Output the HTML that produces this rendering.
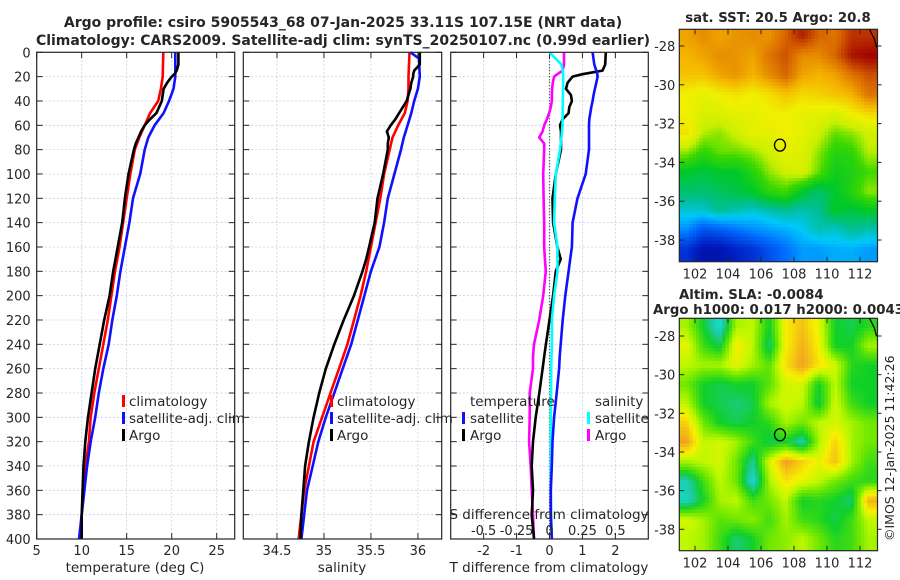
<!DOCTYPE html>
<html><head><meta charset="utf-8"><style>
body{margin:0;width:900px;height:580px;background:#fff;overflow:hidden}
svg{position:absolute;left:0;top:0}
text{font-family:"DejaVu Sans","Liberation Sans",sans-serif;fill:#262626}
</style></head><body>
<svg id="s" width="900" height="580" xmlns="http://www.w3.org/2000/svg">
<text x="343" y="27" font-size="14" font-weight="bold" text-anchor="middle" fill="#000">Argo profile: csiro 5905543_68 07-Jan-2025 33.11S 107.15E (NRT data)</text>
<text x="343" y="45" font-size="14" font-weight="bold" text-anchor="middle" fill="#000">Climatology: CARS2009. Satellite-adj clim: synTS_20250107.nc (0.99d earlier)</text>
<text x="778" y="22" font-size="13.3" font-weight="bold" text-anchor="middle" fill="#000">sat. SST: 20.5 Argo: 20.8</text>
<text x="679" y="299" font-size="13.3" font-weight="bold" fill="#000">Altim. SLA: -0.0084</text>
<text x="653" y="314" font-size="13.3" font-weight="bold" fill="#000">Argo h1000: 0.017 h2000: 0.0043</text>
<text transform="translate(894,541) rotate(-90)" font-size="12.5">©IMOS 12-Jan-2025 11:42:26</text>
<g id="g"></g>
</svg>
<script>
// ---- profile data ----
const dep1 = [0,20,30,40,50,60,70,80,100,120,140,160,180,200,220,240,260,280,300,320,340,360,380,400];
const climT = [19.07,19.0,18.8,18.5,17.6,17.0,16.4,15.9,15.4,15.0,14.6,14.2,13.7,13.3,12.9,12.4,11.9,11.4,11.0,10.8,10.4,10.2,10.0,9.9];
const satT = [20.4,20.4,20.2,19.7,19.1,18.1,17.4,17.0,16.5,15.7,15.3,14.8,14.3,13.9,13.4,13.0,12.4,11.9,11.5,11.0,10.6,10.3,10.0,9.7];
const climS = [35.91,35.90,35.9,35.89,35.86,35.79,35.73,35.70,35.64,35.60,35.55,35.50,35.45,35.39,35.32,35.25,35.16,35.07,34.98,34.89,34.84,34.79,34.76,34.73];
const satSDep = [0,5,20,30,40,50,60,70,80,100,120,140,160,180,200,220,240,260,280,300,320,340,360,380,400];
const satS = [35.92,36.01,36.02,36.0,35.96,35.93,35.89,35.85,35.82,35.75,35.68,35.64,35.59,35.5,35.43,35.36,35.29,35.2,35.11,35.02,34.94,34.88,34.82,34.79,34.76];
const argoDep = [0,10,15,18,20,25,30,35,40,45,50,55,60,65,70,75,80,100,120,140,160,170,180,200,220,240,260,280,300,320,340,360,380,400];
const argoT = [20.74,20.74,20.56,20.3,20.0,19.5,19.1,19.0,18.9,18.6,18.3,17.6,17.0,16.6,16.3,16.0,15.8,15.2,14.8,14.5,14.0,13.75,13.5,13.1,12.5,12.0,11.5,11.1,10.7,10.4,10.2,10.1,10.0,10.0];
const argoS = [36.02,36.02,35.96,35.95,35.95,35.93,35.92,35.9,35.88,35.84,35.8,35.76,35.71,35.67,35.69,35.68,35.68,35.63,35.57,35.54,35.48,35.45,35.41,35.32,35.21,35.11,35.02,34.95,34.89,34.84,34.8,34.78,34.76,34.75];
const diffDep = [0,10,15,18,20,25,30,35,40,45,50,55,60,65,70,75,80,100,120,140,160,170,180,200,220,240,250,260,280,300,320,340,360,380,400];
const satTdiff = [1.31,1.36,1.42,1.45,1.46,1.42,1.38,1.34,1.31,1.27,1.24,1.21,1.2,1.2,1.2,1.2,1.2,1.1,0.85,0.7,0.68,0.63,0.58,0.48,0.4,0.34,0.31,0.29,0.22,0.14,0.09,0.07,0.04,0.04,0.07];
const argoTdiff = [1.71,1.69,1.61,1.0,0.7,0.55,0.5,0.65,0.68,0.6,0.58,0.4,0.32,0.35,0.35,0.35,0.35,0.19,0.09,0.11,0.24,0.34,0.19,0.11,0.0,-0.11,-0.16,-0.21,-0.31,-0.42,-0.5,-0.54,-0.5,-0.54,-0.47];
const satSdiff = [0,0.09,0.1,0.102,0.104,0.104,0.103,0.102,0.101,0.1,0.1,0.099,0.099,0.095,0.09,0.085,0.08,0.048,0.04,0.035,0.061,0.06,0.061,0.035,0.018,0.018,0.015,0.013,0.012,0.01,0.01,0.01,0.01,0.012,0.018];
const argoSdiff = [0.11,0.11,0.10,0.06,0.035,0.025,0.02,0.018,0.018,0.01,-0.003,-0.02,-0.04,-0.052,-0.078,-0.04,-0.04,-0.048,-0.045,-0.04,-0.04,-0.035,-0.028,-0.048,-0.078,-0.118,-0.125,-0.125,-0.15,-0.15,-0.155,-0.143,-0.135,-0.125,-0.118];
const depthTicks = [0,20,40,60,80,100,120,140,160,180,200,220,240,260,280,300,320,340,360,380,400];
const tTicks = [5,10,15,20,25];
const sTicks = [34.5,35,35.5,36];
const dTTicks = [-2,-1,0,1,2];
const dSTicks = [-0.5,-0.25,0,0.25,0.5];
const dSTickLabels = ["-0.5","-0.25","0","0.25","0.5"];
// ---- map data (12x12 grid, lon 101.5..112.5, lat -27.5..-38.5) ----
const gridLon = [101.5,102.5,103.5,104.5,105.5,106.5,107.5,108.5,109.5,110.5,111.5,112.5];
const gridLat = [-27.5,-28.5,-29.5,-30.5,-31.5,-32.5,-33.5,-34.5,-35.5,-36.5,-37.5,-38.5];
const sstGrid = [
[0.82,0.85,0.82,0.84,0.85,0.84,0.9,0.97,0.9,0.88,0.95,0.95],
[0.8,0.82,0.85,0.84,0.82,0.88,0.92,0.85,0.85,0.9,0.98,1.0],
[0.78,0.78,0.82,0.84,0.8,0.85,0.9,0.82,0.8,0.82,0.88,0.92],
[0.72,0.7,0.72,0.74,0.72,0.74,0.78,0.75,0.76,0.78,0.8,0.88],
[0.72,0.68,0.68,0.7,0.7,0.72,0.72,0.7,0.7,0.68,0.72,0.75],
[0.74,0.64,0.62,0.66,0.7,0.7,0.72,0.7,0.66,0.6,0.62,0.66],
[0.62,0.56,0.6,0.6,0.62,0.66,0.7,0.68,0.62,0.55,0.56,0.64],
[0.5,0.48,0.5,0.5,0.55,0.62,0.66,0.68,0.6,0.52,0.54,0.58],
[0.45,0.45,0.46,0.48,0.5,0.56,0.58,0.5,0.45,0.5,0.55,0.62],
[0.38,0.38,0.42,0.4,0.38,0.4,0.42,0.4,0.42,0.5,0.48,0.5],
[0.28,0.2,0.22,0.25,0.28,0.3,0.32,0.35,0.4,0.38,0.42,0.4],
[0.15,0.08,0.08,0.12,0.15,0.2,0.25,0.3,0.3,0.32,0.32,0.3]];
const slaGrid = [
[0,-0.3,-0.6,0,0.05,-0.3,0.2,0.35,0.15,-0.3,-0.35,-0.25],
[0.15,-0.2,-0.35,0.2,0.05,-0.4,0.2,0.4,0.2,-0.3,-0.3,0],
[0.05,0,0,0.15,0,-0.15,0.25,0.45,0.25,0.1,-0.25,-0.3],
[-0.1,-0.3,-0.35,-0.3,-0.3,-0.15,0.1,0.1,-0.3,0.05,-0.3,-0.3],
[0.05,-0.3,-0.35,-0.4,-0.35,0,0.1,0.05,-0.35,0.1,-0.2,-0.3],
[0.3,-0.1,-0.3,-0.35,-0.3,-0.25,0,-0.1,0.05,0.1,0,-0.1],
[0.45,0.05,0.1,0,-0.2,-0.35,-0.3,-0.5,0,0.3,0,-0.1],
[0,0.05,0.1,-0.1,-0.45,0.1,0.45,0.3,0.15,0.35,0,-0.2],
[-0.5,-0.2,0.05,-0.1,-0.6,0,0.25,0.15,0.05,-0.1,-0.2,-0.25],
[-0.55,-0.3,0,0.05,-0.2,-0.1,0.05,-0.3,-0.25,-0.3,-0.4,0.4],
[0.1,0,-0.15,-0.1,-0.05,-0.2,0,-0.2,-0.25,-0.35,-0.2,0.05],
[0.05,0,-0.2,-0.4,-0.3,-0.1,-0.05,0.05,-0.1,-0.25,-0.2,0]];
const lonTicks = [102,104,106,108,110,112];
const latTicks = [-28,-30,-32,-34,-36,-38];
const argoLon = 107.15, argoLat = -33.11;

const NS="http://www.w3.org/2000/svg", G=document.getElementById('g');
function el(tag,attrs,parent){const e=document.createElementNS(NS,tag);for(const k in attrs)e.setAttribute(k,attrs[k]);(parent||G).appendChild(e);return e;}
const Y0=52.3, Y1=539;
const yD = d => Y0 + d*(Y1-Y0)/400;

function panel(name,x0,x1,dmin,dmax,gridVals,showY){
  const g=el('g',{});
  
  
  const sx=v=>x0+(v-dmin)/(dmax-dmin)*(x1-x0);
  gridVals.forEach(v=>{const l=el('line',{x1:sx(v),x2:sx(v),y1:Y0,y2:Y1,stroke:'#c4cce8','stroke-width':0.8,'stroke-dasharray':'2,2'},g);
    });
  depthTicks.forEach(d=>{
    const l=el('line',{x1:x0,x2:x1,y1:yD(d),y2:yD(d),stroke:'#c4cce8','stroke-width':0.8,'stroke-dasharray':'2,2'},g);
    
    el('line',{x1:x0,x2:x0+6,y1:yD(d),y2:yD(d),stroke:'#262626'},g);
    el('line',{x1:x1-6,x2:x1,y1:yD(d),y2:yD(d),stroke:'#262626'},g);
    if(showY){const t=el('text',{x:x0-6,y:yD(d)+5,'font-size':13,'text-anchor':'end'},g);t.textContent=d;
      }
  });
  gridVals.forEach(v=>{el('line',{x1:sx(v),x2:sx(v),y1:Y0,y2:Y0+6,stroke:'#262626'},g);el('line',{x1:sx(v),x2:sx(v),y1:Y1-6,y2:Y1,stroke:'#262626'},g);});
  return {g,sx};
}
function series(p,name,deps,vals,color,sx){
  const f=sx||p.sx;
  const pts=deps.map((d,i)=>f(vals[i]).toFixed(1)+','+yD(d).toFixed(1)).join(' ');
  const l=el('polyline',{points:pts,fill:'none',stroke:color,'stroke-width':2.6,'stroke-linejoin':'round'},p.g);
  
}
function frame(p,x0,x1){const r=el('rect',{x:x0,y:Y0,width:x1-x0,height:Y1-Y0,fill:'none',stroke:'#262626','stroke-width':1.2},p.g);
  }
function txt(x,y,s,size,anchor,name,parent){const t=el('text',{x:x,y:y,'font-size':size,'text-anchor':anchor||'start'},parent);t.textContent=s;
  return t;}
function mark(x,y,color,name,parent){const r=el('rect',{x:x,y:y,width:3,height:12,fill:color},parent);
  }

// Panel 1 temperature
const p1=panel('temperature-panel',36.7,234.7,5,27,tTicks,true);
series(p1,'climatology-temperature-line',dep1,climT,'#ff0000');
series(p1,'satellite-temperature-line',dep1,satT,'#1010ff');
series(p1,'argo-temperature-line',argoDep,argoT,'#000');
frame(p1,36.7,234.7);
tTicks.forEach(v=>txt(p1.sx(v),555,v,13,'middle','temperature-tick-label',p1.g));
txt(135,572,'temperature (deg C)',13.5,'middle','x-axis-title-temperature',p1.g);
[['climatology','#ff0000',406],['satellite-adj. clim','#1010ff',423],['Argo','#000',440]].forEach(a=>{mark(122,a[2]-11,a[1],'legend-marker',p1.g);txt(129,a[2],a[0],13.5,'start','legend-entry',p1.g);});

// Panel 2 salinity
const p2=panel('salinity-panel',243.3,441.7,34.142,36.253,sTicks,false);
series(p2,'climatology-salinity-line',dep1,climS,'#ff0000');
series(p2,'satellite-salinity-line',satSDep,satS,'#1010ff');
series(p2,'argo-salinity-line',argoDep,argoS,'#000');
frame(p2,243.3,441.7);
sTicks.forEach(v=>txt(p2.sx(v),555,v,13,'middle','salinity-tick-label',p2.g));
txt(342,572,'salinity',13.5,'middle','x-axis-title-salinity',p2.g);
[['climatology','#ff0000',406],['satellite-adj. clim','#1010ff',423],['Argo','#000',440]].forEach(a=>{mark(330,a[2]-11,a[1],'legend-marker',p2.g);txt(337,a[2],a[0],13.5,'start','legend-entry',p2.g);});

// Panel 3 differences
const p3=panel('difference-panel',450.7,648.3,-3,3,dTTicks,false);
const sxS=v=>p3.sx(v*4);
const z=el('line',{x1:p3.sx(0),x2:p3.sx(0),y1:Y0,y2:Y1,stroke:'#333','stroke-width':1.2,'stroke-dasharray':'1,2'},p3.g);

series(p3,'argo-salinity-diff-line',diffDep,argoSdiff,'#ff00ff',sxS);
series(p3,'argo-temperature-diff-line',diffDep,argoTdiff,'#000');
series(p3,'satellite-salinity-diff-line',diffDep,satSdiff,'#00ffff',sxS);
series(p3,'satellite-temperature-diff-line',diffDep,satTdiff,'#1010ff');
frame(p3,450.7,648.3);
dTTicks.forEach(v=>txt(p3.sx(v),555,v,13,'middle','t-diff-tick-label',p3.g));
txt(549,572,'T difference from climatology',13.5,'middle','x-axis-title-t-diff',p3.g);
dSTicks.forEach((v,i)=>txt(sxS(v),535,dSTickLabels[i],13,'middle','s-diff-tick-label',p3.g));
txt(549,519,'S difference from climatology',13.5,'middle','s-diff-axis-title',p3.g);
txt(470,406,'temperature',13.5,'start','legend-header-temperature',p3.g);
txt(595,406,'salinity',13.5,'start','legend-header-salinity',p3.g);
mark(462,412,'#1010ff','legend-marker',p3.g);txt(470,423,'satellite',13.5,'start','legend-entry',p3.g);
mark(462,429,'#000','legend-marker',p3.g);txt(470,440,'Argo',13.5,'start','legend-entry',p3.g);
mark(587,412,'#00ffff','legend-marker',p3.g);txt(595,423,'satellite',13.5,'start','legend-entry',p3.g);
mark(587,429,'#ff00ff','legend-marker',p3.g);txt(595,440,'Argo',13.5,'start','legend-entry',p3.g);

// ---- maps ----
function lerpColor(stops,v){
  if(v<=stops[0][0])return stops[0][1];
  for(let i=1;i<stops.length;i++){if(v<=stops[i][0]){const a=stops[i-1],b=stops[i],t=(v-a[0])/(b[0]-a[0]);
    return a[1].map((c,k)=>Math.round(c+(b[1][k]-c)*t));}}
  return stops[stops.length-1][1];
}
const sstStops=[[0,[0,0,128]],[0.12,[0,32,200]],[0.25,[0,110,255]],[0.35,[0,200,250]],[0.42,[0,190,150]],[0.5,[0,200,40]],[0.58,[60,216,0]],[0.65,[200,240,0]],[0.72,[240,240,0]],[0.8,[245,180,0]],[0.9,[215,100,0]],[1,[160,0,0]]];
const slaStops=[[-0.7,[0,240,240]],[-0.45,[32,200,160]],[-0.3,[16,208,40]],[-0.1,[112,232,0]],[0.05,[192,248,0]],[0.2,[248,240,0]],[0.45,[240,160,32]]];
function sample(grid,lon,lat){
  let fx=(lon-gridLon[0]), fy=(gridLat[0]-lat);
  fx=Math.max(0,Math.min(11,fx)); fy=Math.max(0,Math.min(11,fy));
  const i=Math.min(10,Math.floor(fx)), j=Math.min(10,Math.floor(fy)), tx=fx-i, ty=fy-j;
  return grid[j][i]*(1-tx)*(1-ty)+grid[j][i+1]*tx*(1-ty)+grid[j+1][i]*(1-tx)*ty+grid[j+1][i+1]*tx*ty;
}
function map(name,top,bottom,grid,stops,lat28,lat38,cell){
  const x0=679.3,x1=877.5;
  const lonX=l=>695+(l-102)*(860-695)/10;
  const latY=l=>lat28+(-28-l)*(lat38-lat28)/10;
  const xLon=x=>102+(x-695)*10/(860-695);
  const yLat=y=>-28-(y-lat28)*10/(lat38-lat28);
  const g=el('g',{});
  
  const cg=el('g',{'shape-rendering':'crispEdges'},g);
  for(let y=top;y<bottom;y+=cell){for(let x=x0;x<x1;x+=cell){
    const v=sample(grid,xLon(x+cell/2),yLat(y+cell/2));const c=lerpColor(stops,v);
    el('rect',{x:x,y:y,width:Math.min(cell,x1-x)+0.3,height:Math.min(cell,bottom-y)+0.3,fill:'rgb('+c.join(',')+')'},cg);
  }}
  const f=el('rect',{x:x0,y:top,width:x1-x0,height:bottom-top,fill:'none',stroke:'#262626','stroke-width':1.2},g);
  
  el('polyline',{points:(x1-8)+','+top+' '+(x1-3)+','+(top+10)+' '+(x1-1)+','+(top+18),fill:'none',stroke:'#000','stroke-width':1.2},g);
  lonTicks.forEach(l=>{const x=lonX(l);el('line',{x1:x,x2:x,y1:bottom,y2:bottom-5,stroke:'#262626'},g);el('line',{x1:x,x2:x,y1:top,y2:top+5,stroke:'#262626'},g);
    txt(x,bottom+17,l,13,'middle','longitude-tick-label',g);});
  latTicks.forEach(l=>{const y=latY(l);el('line',{x1:x0,x2:x0+5,y1:y,y2:y,stroke:'#262626'},g);el('line',{x1:x1,x2:x1+4,y1:y,y2:y,stroke:'#262626'},g);
    txt(x0-4,y+5,l,13,'end','latitude-tick-label',g);});
  const c=el('ellipse',{cx:lonX(argoLon),cy:latY(argoLat),rx:5.5,ry:6,fill:'none',stroke:'#000','stroke-width':1.3},g);
  
}
map('sst-map',29.3,261.7,sstGrid,sstStops,46,240,3.3);
map('sla-map',318.3,550.7,slaGrid,slaStops,336,529.3,3.3);
</script>
</body></html>
